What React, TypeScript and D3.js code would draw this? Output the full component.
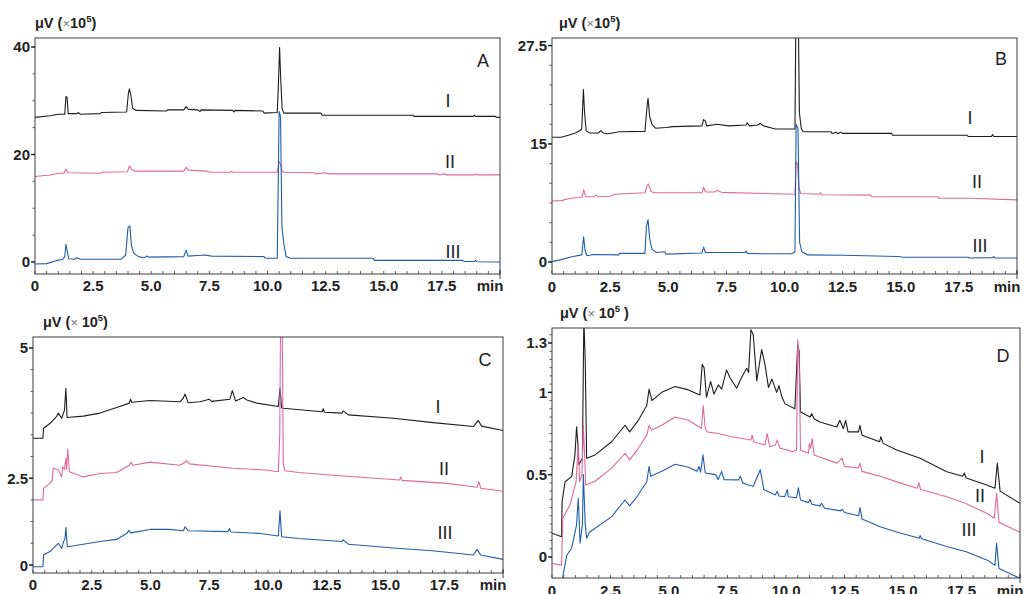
import React from 'react';
import * as d3 from 'd3';

type Pt = [number, number];

// x axis (retention time, min)
const X_TICKS = [0, 2.5, 5, 7.5, 10, 12.5, 15, 17.5];
const X_TICK_LABELS = ['0', '2.5', '5.0', '7.5', '10.0', '12.5', '15.0', '17.5'];
const X_END_LABEL = 'min';

// y ticks per panel (value, label)
const A_Y_TICKS = [0, 20, 40];
const A_Y_LABELS = ['0', '20', '40'];
const B_Y_TICKS = [0, 15, 27.5];
const B_Y_LABELS = ['0', '15', '27.5'];
const C_Y_TICKS = [0, 2, 5];
const C_Y_LABELS = ['0', '2.5', '5'];
const D_Y_TICKS = [0, 0.5, 1, 1.3];
const D_Y_LABELS = ['0', '0.5', '1', '1.3'];

const TRACE_NAMES = ['I', 'II', 'III'];
const PANEL_LETTERS = ['A', 'B', 'C', 'D'];

// Panel A traces [min, µV x1e5]
const A_I: Pt[] = [[0,26.9],[0.65,27.2],[1.0,27.5],[1.28,27.5],[1.33,30.8],[1.38,30.6],[1.43,27.6],[1.8,27.6],[1.85,27.8],[1.95,27.5],[2.8,27.6],[2.85,27.8],[3.94,27.9],[4.02,31.5],[4.06,32.2],[4.12,31.1],[4.2,28.6],[4.35,28.2],[5.66,28.1],[5.7,28.3],[6.4,28.3],[6.5,28.9],[6.6,28.4],[7.0,28.3],[7.1,28.0],[7.15,28.3],[8.5,28.2],[8.55,27.9],[8.6,28.2],[9.8,28.1],[9.85,27.7],[10.42,27.8],[10.47,33.2],[10.52,39.9],[10.57,33.9],[10.63,28.5],[10.7,27.7],[12.3,27.7],[12.35,27.3],[16.25,27.3],[16.3,27.1],[18.85,27.1],[18.9,27.3],[18.95,27.1],[19.8,27.1],[19.85,26.9],[20,26.9]];
const A_II: Pt[] = [[0,15.9],[0.65,16.2],[1.0,16.5],[1.25,16.5],[1.33,17.3],[1.42,16.6],[2.8,16.5],[2.9,16.7],[3.98,16.8],[4.06,17.9],[4.15,17.2],[4.3,16.9],[6.4,16.9],[6.5,17.6],[6.6,17.1],[7.4,16.9],[7.5,16.7],[8.4,16.7],[8.45,16.9],[8.5,16.7],[10.42,16.7],[10.5,18.7],[10.56,18.2],[10.62,17.0],[10.7,16.7],[12.0,16.6],[12.1,16.4],[12.5,16.6],[12.6,16.4],[17.3,16.4],[17.4,16.2],[17.6,16.4],[17.7,16.2],[18.9,16.2],[18.95,16.4],[19.0,16.2],[20,16.2]];
const A_III: Pt[] = [[0,-0.37],[0.5,-0.3],[0.9,0.25],[1.2,0.5],[1.28,1.0],[1.33,3.3],[1.38,2.2],[1.45,0.6],[1.7,0.5],[1.8,0.8],[1.95,0.5],[3.7,0.5],[3.9,1.3],[4.0,6.4],[4.08,6.7],[4.15,3.0],[4.25,1.6],[4.45,1.0],[4.7,0.8],[4.8,1.1],[4.9,0.9],[6.4,1.0],[6.5,2.2],[6.58,1.1],[7.0,1.2],[7.3,1.3],[7.6,1.1],[9.85,1.0],[9.9,0.7],[10.42,0.7],[10.5,28.0],[10.56,27.0],[10.62,6.5],[10.7,3.5],[10.8,1.0],[11.0,0.7],[14.55,0.7],[14.6,0.3],[18.4,0.3],[18.45,0.1],[18.9,0.1],[18.95,0.3],[19.0,0.05],[20,0.0]];

// Panel B
const B_I: Pt[] = [[0,15.85],[0.4,15.85],[0.7,16.1],[1.0,16.4],[1.15,16.6],[1.28,16.9],[1.35,21.9],[1.4,19.0],[1.47,16.7],[1.6,16.4],[2.0,16.4],[2.1,16.7],[2.2,16.4],[2.4,16.3],[2.9,16.55],[4.0,16.6],[4.08,19.5],[4.13,20.8],[4.2,18.5],[4.3,17.5],[4.45,17.0],[4.9,17.1],[5.2,17.2],[6.45,17.3],[6.52,18.1],[6.6,17.9],[6.65,17.3],[7.1,17.5],[7.6,17.3],[8.35,17.4],[8.4,17.7],[8.5,17.3],[8.85,17.4],[8.95,17.6],[9.1,17.3],[9.6,16.9],[10.45,16.9],[10.5,35],[10.58,35],[10.64,19.0],[10.72,17.0],[10.8,16.55],[12.0,16.55],[12.05,16.3],[12.2,16.5],[12.3,16.3],[12.4,16.5],[12.5,16.35],[14.6,16.35],[14.65,16.1],[17.85,16.1],[17.9,15.95],[18.9,15.95],[18.95,16.2],[19.0,15.95],[20,15.95]];
const B_II: Pt[] = [[0,7.75],[0.4,7.8],[0.8,8.1],[1.15,8.2],[1.3,8.3],[1.36,9.2],[1.45,8.3],[1.8,8.3],[1.9,8.5],[2.0,8.3],[2.5,8.35],[2.7,8.6],[4.0,8.8],[4.08,9.7],[4.15,9.9],[4.25,9.0],[4.4,8.8],[6.45,8.8],[6.52,9.5],[6.6,8.9],[7.0,8.9],[7.1,9.1],[7.3,8.85],[10.45,8.6],[10.5,12.7],[10.56,12.5],[10.62,9.5],[10.7,8.7],[11.5,8.6],[11.55,8.8],[11.6,8.55],[13.7,8.5],[13.75,8.3],[16.6,8.3],[16.65,8.1],[18.0,8.1],[20,7.9]];
const B_III: Pt[] = [[0,0.05],[0.4,0.3],[0.85,0.67],[1.28,0.9],[1.36,3.2],[1.42,1.5],[1.5,0.8],[1.78,0.95],[2.87,0.9],[2.9,1.1],[4.0,1.1],[4.06,4.5],[4.13,5.4],[4.2,3.0],[4.3,1.6],[4.5,1.2],[4.85,1.3],[4.9,1.0],[6.45,1.15],[6.52,1.9],[6.6,1.2],[7.0,1.2],[8.3,1.2],[8.35,1.4],[8.4,1.1],[9.0,1.05],[10.3,1.05],[10.45,1.3],[10.5,17.5],[10.58,17.0],[10.65,2.5],[10.75,1.3],[11.0,0.9],[12.5,0.85],[14.9,0.7],[15.1,0.6],[17.9,0.6],[17.95,0.5],[18.95,0.55],[19.0,0.7],[19.05,0.5],[20,0.5]];

// Panel C
const C_I: Pt[] = [[0,2.92],[0.42,2.92],[0.45,3.15],[0.72,3.26],[1.0,3.42],[1.08,3.5],[1.22,3.38],[1.34,3.57],[1.4,4.07],[1.45,3.4],[2.14,3.43],[2.85,3.5],[3.56,3.63],[4.1,3.73],[4.15,3.82],[4.2,3.75],[4.98,3.79],[6.26,3.76],[6.4,3.85],[6.47,3.94],[6.6,3.74],[7.11,3.76],[7.5,3.82],[7.6,3.77],[8.38,3.82],[8.48,4.02],[8.62,3.78],[8.95,3.86],[9.1,3.8],[9.52,3.73],[10.44,3.65],[10.51,4.07],[10.58,3.62],[10.65,3.61],[12.3,3.53],[12.35,3.6],[12.4,3.52],[13.15,3.5],[13.2,3.55],[13.42,3.46],[15.33,3.38],[17.03,3.28],[18.74,3.19],[18.95,3.33],[19.09,3.2],[20,3.1]];
const C_II: Pt[] = [[0,1.5],[0.42,1.5],[0.45,1.77],[0.72,1.88],[0.82,1.95],[0.86,2.23],[1.0,2.2],[1.08,2.19],[1.22,2.03],[1.26,2.26],[1.34,2.2],[1.4,2.46],[1.43,2.2],[1.48,2.67],[1.55,2.15],[2.14,2.03],[2.85,2.11],[3.56,2.13],[4.1,2.3],[4.18,2.37],[4.25,2.3],[4.98,2.37],[6.26,2.3],[6.55,2.4],[6.65,2.33],[8.5,2.23],[9.9,2.19],[10.44,2.15],[10.5,3.0],[10.54,6.0],[10.6,6.0],[10.65,2.34],[10.72,2.17],[11.3,2.13],[13.2,2.05],[15.6,1.96],[15.65,2.03],[15.7,1.95],[17.6,1.88],[18.9,1.79],[18.97,1.92],[19.05,1.77],[20,1.7]];
const C_III: Pt[] = [[0,-0.04],[0.42,-0.04],[0.45,0.23],[0.72,0.31],[1.08,0.5],[1.22,0.38],[1.3,0.54],[1.36,0.6],[1.4,0.87],[1.46,0.42],[2.14,0.48],[2.85,0.54],[3.56,0.59],[4.0,0.73],[4.08,0.8],[4.15,0.74],[4.98,0.82],[5.8,0.82],[6.4,0.79],[6.47,0.88],[6.6,0.79],[8.3,0.77],[8.36,0.84],[8.42,0.76],[9.6,0.73],[10.44,0.67],[10.51,1.25],[10.58,0.65],[11.3,0.61],[13.15,0.54],[13.2,0.58],[13.42,0.48],[15.6,0.38],[17.0,0.33],[18.74,0.23],[18.9,0.36],[19.05,0.23],[20,0.13]];

// Panel D
const D_I: Pt[] = [[0,0.144],[0.41,0.123],[0.43,0.336],[0.56,0.457],[0.84,0.488],[0.98,0.62],[1.05,0.79],[1.1,0.7],[1.15,0.56],[1.3,0.6],[1.36,1.45],[1.42,1.2],[1.48,0.6],[1.84,0.62],[2.55,0.7],[3.12,0.8],[3.32,0.76],[3.69,0.83],[4.05,0.92],[4.15,1.02],[4.27,0.95],[4.69,1.0],[5.26,1.035],[5.83,1.015],[6.32,0.984],[6.42,1.17],[6.5,1.15],[6.6,0.97],[6.78,1.065],[6.92,0.99],[7.11,1.045],[7.25,1.02],[7.46,1.136],[7.6,1.09],[7.89,1.025],[8.1,1.09],[8.32,1.146],[8.4,1.12],[8.5,1.38],[8.6,1.35],[8.75,1.07],[8.96,1.26],[9.1,1.17],[9.25,1.03],[9.4,1.08],[9.6,1.0],[9.7,1.04],[9.83,0.97],[9.96,0.93],[10.38,0.9],[10.5,1.29],[10.56,1.25],[10.62,0.88],[11.03,0.85],[11.1,0.87],[11.2,0.84],[11.45,0.82],[12.17,0.79],[12.3,0.83],[12.45,0.78],[12.55,0.83],[12.65,0.76],[13.1,0.76],[13.16,0.8],[13.25,0.74],[14.0,0.7],[14.05,0.73],[14.15,0.69],[14.73,0.65],[15.73,0.6],[16.87,0.518],[17.55,0.49],[17.62,0.51],[17.7,0.48],[18.58,0.437],[18.93,0.417],[19.03,0.57],[19.15,0.4],[20,0.326]];
const D_II: Pt[] = [[0,-0.04],[0.41,-0.05],[0.46,0.235],[0.77,0.316],[1.03,0.457],[1.12,0.69],[1.18,0.457],[1.28,0.5],[1.34,0.8],[1.4,0.6],[1.44,0.437],[1.84,0.46],[2.55,0.54],[3.12,0.63],[3.32,0.59],[3.69,0.66],[4.05,0.74],[4.15,0.8],[4.25,0.77],[4.69,0.8],[5.26,0.85],[5.83,0.83],[6.39,0.78],[6.46,0.92],[6.55,0.78],[6.62,0.76],[7.1,0.75],[7.68,0.73],[8.5,0.71],[8.55,0.74],[8.62,0.7],[9.1,0.68],[9.2,0.75],[9.3,0.67],[9.55,0.68],[9.62,0.71],[9.75,0.66],[10.31,0.64],[10.45,0.65],[10.5,1.32],[10.56,1.2],[10.62,0.65],[10.96,0.63],[11.0,0.69],[11.05,0.66],[11.12,0.72],[11.2,0.62],[12.17,0.57],[12.4,0.6],[12.5,0.55],[13.1,0.54],[13.16,0.57],[13.25,0.52],[14.02,0.49],[14.87,0.45],[15.6,0.417],[15.68,0.45],[15.75,0.41],[16.87,0.366],[17.66,0.326],[18.58,0.265],[18.9,0.235],[19.0,0.387],[19.1,0.21],[20,0.15]];
const D_III: Pt[] = [[0.35,-0.25],[0.45,-0.128],[0.63,0.01],[0.84,0.053],[1.05,0.195],[1.12,0.357],[1.17,0.2],[1.2,0.083],[1.3,0.2],[1.34,0.5],[1.42,0.2],[1.48,0.114],[1.6,0.15],[2.55,0.245],[3.12,0.346],[3.32,0.31],[3.6,0.36],[4.05,0.457],[4.15,0.55],[4.22,0.49],[4.69,0.52],[5.26,0.563],[5.83,0.545],[6.2,0.52],[6.28,0.55],[6.35,0.515],[6.45,0.62],[6.55,0.51],[7.0,0.5],[7.1,0.47],[7.25,0.52],[7.35,0.47],[7.96,0.468],[8.05,0.49],[8.15,0.45],[8.32,0.44],[8.6,0.43],[8.9,0.53],[9.05,0.41],[9.55,0.377],[9.62,0.4],[9.7,0.37],[9.95,0.366],[10.05,0.41],[10.1,0.366],[10.45,0.36],[10.53,0.42],[10.62,0.346],[10.96,0.33],[11.02,0.35],[11.1,0.32],[11.45,0.31],[11.52,0.326],[11.65,0.296],[12.35,0.28],[12.4,0.29],[12.5,0.27],[13.1,0.25],[13.16,0.3],[13.25,0.23],[14.02,0.184],[14.87,0.145],[15.7,0.114],[15.73,0.13],[15.8,0.11],[16.87,0.063],[17.7,0.032],[18.58,-0.018],[18.93,-0.05],[19.0,0.083],[19.1,-0.07],[20,-0.13]];

const COLORS = ['#1d1d1d', '#e2689c', '#1f5ea8'];
const FONT = '"Liberation Sans", Arial, sans-serif';

interface PanelCfg {
  key: string;
  left: number; top: number; right: number; bottom: number;
  yDomain: [number, number];
  yTicks: number[]; yLabels: string[]; yMinorStep: number; yMinorMax: number;
  traces: Pt[][];
  title: { x: number; y: number; gap: boolean; spaceEnd: boolean };
  letterPos: [number, number];
  romanPos: [number, number][];
  xLabelDy: number;
}

const PANELS: PanelCfg[] = [
  {
    key: 'A', left: 35, top: 38, right: 500, bottom: 274, yDomain: [-2.233, 41.674],
    yTicks: A_Y_TICKS, yLabels: A_Y_LABELS, yMinorStep: 5, yMinorMax: 40,
    traces: [A_I, A_II, A_III],
    title: { x: 35, y: 28, gap: false, spaceEnd: false },
    letterPos: [483, 66.5], romanPos: [[448, 106.5], [450, 167.5], [453, 258]], xLabelDy: 16.5,
  },
  {
    key: 'B', left: 552, top: 38, right: 1017, bottom: 274, yDomain: [-1.525, 28.463],
    yTicks: B_Y_TICKS, yLabels: B_Y_LABELS, yMinorStep: 2.5, yMinorMax: 27.5,
    traces: [B_I, B_II, B_III],
    title: { x: 559, y: 28, gap: false, spaceEnd: false },
    letterPos: [1001, 65], romanPos: [[970, 123.5], [977, 188], [980, 251.5]], xLabelDy: 17.5,
  },
  {
    key: 'C', left: 33, top: 337, right: 503, bottom: 573, yDomain: [-0.184, 5.253],
    yTicks: C_Y_TICKS, yLabels: C_Y_LABELS, yMinorStep: 0.5, yMinorMax: 5,
    traces: [C_I, C_II, C_III],
    title: { x: 43, y: 327, gap: true, spaceEnd: false },
    letterPos: [485, 366], romanPos: [[438, 413], [444, 474.5], [445, 539]], xLabelDy: 16.5,
  },
  {
    key: 'D', left: 552, top: 328, right: 1020, bottom: 578, yDomain: [-0.128, 1.391],
    yTicks: D_Y_TICKS, yLabels: D_Y_LABELS, yMinorStep: 0.05, yMinorMax: 1.35,
    traces: [D_I, D_II, D_III],
    title: { x: 560, y: 318, gap: true, spaceEnd: true },
    letterPos: [1003, 361.5], romanPos: [[982, 463], [980, 502], [969, 536]], xLabelDy: 17.5,
  },
];

function Panel({ p, idx }: { p: PanelCfg; idx: number }) {
  const x = d3.scaleLinear().domain([0, 20]).range([p.left, p.right]);
  const y = d3.scaleLinear().domain(p.yDomain).range([p.bottom, p.top]);
  const line = d3.line<Pt>().x((d) => x(d[0])).y((d) => y(d[1]));
  const xMinor = d3.range(0, 20.001, 0.5);
  const yMinor = d3.range(0, p.yMinorMax + 1e-6, p.yMinorStep);
  const clipId = `clip-${p.key}`;
  const axisColor = '#3a3a3a';

  return (
    <g>
      <defs>
        <clipPath id={clipId}>
          <rect x={p.left} y={p.top} width={p.right - p.left} height={p.bottom - p.top} />
        </clipPath>
      </defs>

      {/* traces */}
      <g clipPath={`url(#${clipId})`}>
        {p.traces.map((tr, i) => (
          <path key={i} d={line(tr) ?? ''} fill="none" stroke={COLORS[i]} strokeWidth={1.1} strokeLinejoin="round" />
        ))}
      </g>

      {/* frame */}
      <rect x={p.left} y={p.top} width={p.right - p.left} height={p.bottom - p.top}
        fill="none" stroke={axisColor} strokeWidth={1} />

      {/* x minor ticks (inside) */}
      {xMinor.map((t) => (
        <line key={`xm${t}`} x1={x(t)} x2={x(t)} y1={p.bottom} y2={p.bottom - 3} stroke={axisColor} strokeWidth={0.8} />
      ))}
      <line x1={x(20)} x2={x(20)} y1={p.bottom - 4} y2={p.bottom + 5} stroke={axisColor} strokeWidth={1} />

      {/* y minor ticks */}
      {yMinor.map((v) => (
        <line key={`ym${v}`} x1={p.left} x2={p.left - 2.5} y1={y(v)} y2={y(v)} stroke="#555" strokeWidth={1} />
      ))}
      {p.yTicks.map((v, i) => (
        <g key={`yt${v}`}>
          <line x1={p.left} x2={p.left - 4} y1={y(v)} y2={y(v)} stroke="#222" strokeWidth={1.4} />
          <text x={p.left - 5} y={y(v) + 5.5} textAnchor="end" fontFamily={FONT} fontWeight="bold"
            fontSize={15} fill="#222">{p.yLabels[i]}</text>
        </g>
      ))}

      {/* x labels */}
      {X_TICKS.map((t, i) => (
        <text key={`xt${t}`} x={x(t)} y={p.bottom + p.xLabelDy} textAnchor="middle" fontFamily={FONT}
          fontWeight="bold" fontSize={15} fill="#222">{X_TICK_LABELS[i]}</text>
      ))}
      <text x={x(20) - 10} y={p.bottom + p.xLabelDy} textAnchor="middle" fontFamily={FONT}
        fontWeight="bold" fontSize={15} fill="#222">{X_END_LABEL}</text>

      {/* unit title */}
      <text x={p.title.x} y={p.title.y} fontFamily={FONT} fontWeight="bold" fontSize={14.5} fill="#222">
        <tspan>μV (</tspan>
        <tspan fontWeight="normal" fill="#777" fontSize={13}>{p.title.gap ? '× ' : '×'}</tspan>
        <tspan>10</tspan>
        <tspan dy={-6} fontSize={9.5}>5</tspan>
        <tspan dy={6}>{p.title.spaceEnd ? ' )' : ')'}</tspan>
      </text>

      {/* panel letter */}
      <text x={p.letterPos[0]} y={p.letterPos[1]} textAnchor="middle" fontFamily={FONT}
        fontSize={18} fill="#222">{PANEL_LETTERS[idx]}</text>

      {/* trace labels */}
      {TRACE_NAMES.map((n, i) => (
        <text key={n} x={p.romanPos[i][0]} y={p.romanPos[i][1]} textAnchor="middle" fontFamily={FONT}
          fontSize={18} fill="#222">{n}</text>
      ))}
    </g>
  );
}

export default function App() {
  return (
    <svg width={1025} height={594} viewBox="0 0 1025 594"
      style={{ position: 'absolute', left: 0, top: 0, background: '#fff' }}>
      <rect x={0} y={0} width={1025} height={594} fill="#fff" />
      {PANELS.map((p, i) => <Panel key={p.key} p={p} idx={i} />)}
    </svg>
  );
}
